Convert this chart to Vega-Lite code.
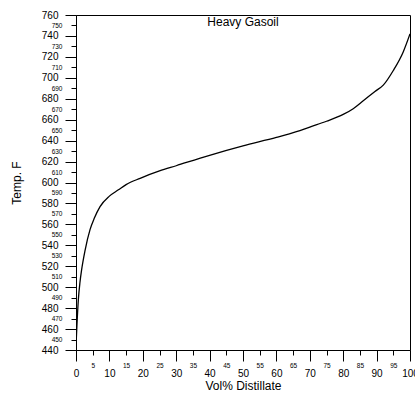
{
  "$schema": "https://vega.github.io/schema/vega-lite/v6.json",
  "width": 334,
  "height": 335,
  "autosize": "none",
  "padding": {"left": 76, "top": 15, "right": 5, "bottom": 44},
  "title": {"text": "Heavy Gasoil", "fontSize": 12, "fontWeight": "normal", "font": "Liberation Sans", "color": "black", "anchor": "middle", "orient": "top", "baseline": "alphabetic", "offset": -28},
  "config": {
    "view": {"stroke": "black", "strokeWidth": 1},
    "axis": {"grid": false, "domainColor": "black", "tickColor": "black", "labelColor": "black", "titleColor": "black", "labelFont": "Liberation Sans", "titleFont": "Liberation Sans", "titleFontWeight": "normal", "titleFontSize": 12}
  },
  "data": {"values": [
    {"vol": 0, "temp": 444},
    {"vol": 0.3, "temp": 465},
    {"vol": 0.7, "temp": 488},
    {"vol": 1.2, "temp": 505},
    {"vol": 1.7, "temp": 517},
    {"vol": 2.7, "temp": 535},
    {"vol": 4.2, "temp": 555},
    {"vol": 5.5, "temp": 566},
    {"vol": 7.2, "temp": 577},
    {"vol": 10, "temp": 587},
    {"vol": 12.7, "temp": 593},
    {"vol": 15, "temp": 598},
    {"vol": 19.2, "temp": 604},
    {"vol": 25, "temp": 611},
    {"vol": 30, "temp": 616},
    {"vol": 40, "temp": 626},
    {"vol": 50, "temp": 635},
    {"vol": 60, "temp": 643},
    {"vol": 66, "temp": 648.5},
    {"vol": 70, "temp": 653},
    {"vol": 75, "temp": 658.5},
    {"vol": 80, "temp": 665},
    {"vol": 83, "temp": 670.5},
    {"vol": 86, "temp": 678},
    {"vol": 89.5, "temp": 687},
    {"vol": 92, "temp": 693},
    {"vol": 95, "temp": 707},
    {"vol": 98, "temp": 725},
    {"vol": 100, "temp": 742}
  ]},
  "mark": {"type": "line", "color": "black", "strokeWidth": 1.3, "interpolate": "monotone", "clip": true},
  "encoding": {
    "x": {
      "field": "vol", "type": "quantitative",
      "scale": {"domain": [0, 100], "nice": false},
      "axis": {
        "title": "Vol% Distillate",
        "titlePadding": 2,
        "values": [0,5,10,15,20,25,30,35,40,45,50,55,60,65,70,75,80,85,90,95,100],
        "tickSize": {"condition": {"test": "datum.value % 10 === 0", "value": 11}, "value": 5},
        "labelFontSize": {"condition": {"test": "datum.value % 10 === 0", "value": 10}, "value": 6.5},
        "labelPadding": {"condition": {"test": "datum.value % 10 === 0", "value": 7}, "value": 7},
        "labelFlush": false,
        "labelOverlap": false
      }
    },
    "y": {
      "field": "temp", "type": "quantitative",
      "scale": {"domain": [440, 760], "nice": false, "zero": false},
      "axis": {
        "title": "Temp. F",
        "titlePadding": 18,
        "values": [440,450,460,470,480,490,500,510,520,530,540,550,560,570,580,590,600,610,620,630,640,650,660,670,680,690,700,710,720,730,740,750,760],
        "tickSize": {"condition": {"test": "datum.value % 20 === 0", "value": 11}, "value": 5},
        "labelFontSize": {"condition": {"test": "datum.value % 20 === 0", "value": 10}, "value": 6.5},
        "labelPadding": {"condition": {"test": "datum.value % 20 === 0", "value": 7}, "value": 9},
        "labelFlush": false,
        "labelOverlap": false
      }
    }
  }
}
